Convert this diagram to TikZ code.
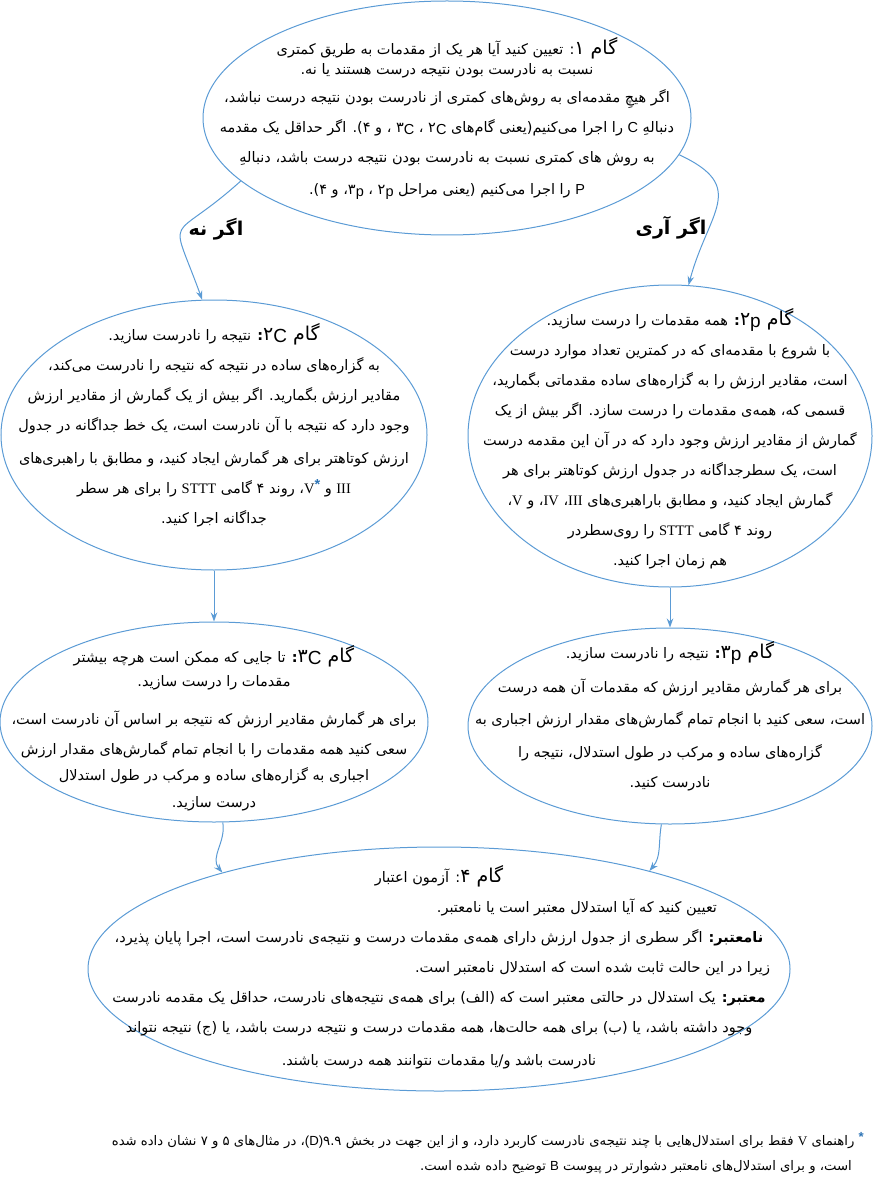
\documentclass[tikz,border=0pt]{standalone}
\usepackage{fontspec}
\usetikzlibrary{shapes.geometric,arrows.meta}
\TeXXeTstate=1
\newfontfamily\farsi[Script=Arabic]{DejaVu Sans}
\newfontfamily\latsf{Liberation Sans}
\newfontfamily\latrm{Liberation Serif}
\definecolor{linkblue}{RGB}{91,155,213}
\definecolor{starblue}{RGB}{46,116,181}
\newcommand{\rl}[1]{\beginR #1\endR}
\newcommand{\lrm}[1]{\beginL{\latrm #1}\endL}
\newcommand{\lsf}[1]{\beginL{\latsf #1}\endL}
\newcommand{\subl}[1]{\raisebox{-2pt}{\latsf #1}}
\newcommand{\gam}[1]{{\fontsize{19}{22}\selectfont #1}}
\newcommand{\starmark}{\textcolor{starblue}{\raisebox{4pt}{\latsf\bfseries *}}}
\newcommand{\astr}{\beginL\starmark\endL}
\begin{document}
\begin{tikzpicture}[x=1pt, y=1pt,
    stepbox/.style={
      % The shape:
      ellipse, inner sep=0pt,
      % The rest
      draw=linkblue, line width=1pt},
    steptext/.style={align=center, inner sep=0pt,
      font=\farsi\fontsize{14.5}{30}\selectfont},
    answer/.style={font=\farsi\bfseries\fontsize{19}{22}\selectfont},
    link/.style={draw=linkblue, line width=1pt, -{Stealth[length=9pt,width=6.5pt]}}]
  \useasboundingbox (0,0) rectangle (873,-1182);

  % step 1
  \node(s1)[stepbox, minimum width=488pt, minimum height=234pt] at (447,-118) {};
  \node(s1t)[steptext, at=(s1.center)] {%
    \rl{\gam{گام ۱}: تعیین کنید آیا هر یک از مقدمات به طریق کمتری}\\[-10pt]
    \rl{نسبت به نادرست بودن نتیجه درست هستند یا نه.}\\[-2pt]
    \rl{اگر هیچِ مقدمه^^^^200cای به روش^^^^200cهای کمتری از نادرست بودن نتیجه درست نباشد،}\\
    \rl{دنبالهِ \lsf{C} را اجرا می^^^^200cکنیم(یعنی گام^^^^200cهای \subl{C}۲ ، \subl{C}۳ ، و ۴). اگر حداقل یک مقدمه}\\
    \rl{به روش های کمتری نسبت به نادرست بودن نتیجه درست باشد، دنبالهِ}\\[2pt]
    \rl{\lsf{P} را اجرا می^^^^200cکنیم (یعنی مراحل \subl{p}۲ ، \subl{p}۳، و ۴).}};

  % the two branches
  \node(s2c)[stepbox, minimum width=426pt, minimum height=270pt] at (214,-435) {};
  \node(s2ct)[steptext, at=(s2c.center), yshift=10pt] {%
    \rl{\gam{گام \subl{C}۲}\textbf{:} نتیجه را نادرست سازید.}\\
    \rl{به گزاره^^^^200cهای ساده در نتیجه که نتیجه را نادرست می^^^^200cکند،}\\
    \rl{مقادیر ارزش بگمارید. اگر بیش از یک گمارش از مقادیر ارزش}\\
    \rl{وجود دارد که نتیجه با آن نادرست است، یک خط جداگانه در جدول}\\[3pt]
    \rl{ارزش کوتاهتر برای هر گمارش ایجاد کنید، و مطابق با راهبری^^^^200cهای}\\
    \rl{\lrm{III} و \beginL{\latrm V}\starmark\endL، روند ۴ گامی \lrm{STTT} را برای هر سطر}\\
    \rl{جداگانه اجرا کنید.}};

  \node(s2p)[stepbox, minimum width=404pt, minimum height=302pt] at (670,-436) {};
  \node(s2pt)[steptext, at=(s2p.center), yshift=-3pt] {%
    \rl{\gam{گام \subl{p}۲}\textbf{:} همه مقدمات را درست سازید.}\\
    \rl{با شروع با مقدمه^^^^200cای که در کمترین تعداد موارد درست}\\
    \rl{است، مقادیر ارزش را به گزاره^^^^200cهای ساده مقدماتی بگمارید،}\\
    \rl{قسمی که، همه^^^^200cی مقدمات را درست سازد. اگر بیش از یک}\\
    \rl{گمارش از مقادیر ارزش وجود دارد که در آن این مقدمه درست}\\
    \rl{است، یک سطرجداگانه در جدول ارزش کوتاهتر برای هر}\\
    \rl{گمارش ایجاد کنید، و مطابق باراهبری^^^^200cهای \lrm{III}، \lrm{IV}، و \lrm{V}،}\\
    \rl{روند ۴ گامی \lrm{STTT} را روی^^^^200cسطردر}\\
    \rl{هم زمان اجرا کنید.}};

  \node(no)[answer] at (216,-229) {\rl{اگر نه}};
  \node(yes)[answer] at (671,-228) {\rl{اگر آری}};
  \path (s1.197) edge[link, out=222, in=110, looseness=2] (s2c.95);
  \path (s1.-9) edge[link, out=-25, in=75, looseness=1.5] (s2p.83);

  % step 3
  \node(s3c)[stepbox, below=51pt, at=(s2c.south), minimum width=428pt, minimum height=200pt] {};
  \node(s3ct)[steptext, at=(s3c.center), yshift=-6pt] {%
    \rl{\gam{گام \subl{C}۳}\textbf{:} تا جایی که ممکن است هرچه بیشتر}\\[-6pt]
    \rl{مقدمات را درست سازید.}\\[8pt]
    \rl{برای هر گمارش مقادیر ارزش که نتیجه بر اساس آن نادرست است،}\\
    \rl{سعی کنید همه مقدمات را با انجام تمام گمارش^^^^200cهای مقدار ارزش}\\[-4pt]
    \rl{اجباری به گزاره^^^^200cهای ساده و مرکب در طول استدلال}\\[-3pt]
    \rl{درست سازید.}};
  \path (s2c) edge[link] (s3c);

  \node(s3p)[stepbox, below=40pt, at=(s2p.south), minimum width=404pt, minimum height=196pt] {};
  \node(s3pt)[steptext, at=(s3p.center), yshift=10pt] {%
    \rl{\gam{گام \subl{p}۳}\textbf{:} نتیجه را نادرست سازید.}\\[4pt]
    \rl{برای هر گمارش مقادیر ارزش که مقدمات آن همه درست}\\[2pt]
    \rl{است، سعی کنید با انجام تمام گمارش^^^^200cهای مقدار ارزش اجباری به}\\[3pt]
    \rl{گزاره^^^^200cهای ساده و مرکب در طول استدلال، نتیجه را}\\
    \rl{نادرست کنید.}};
  \path (s2p) edge[link] (s3p);

  % step 4
  \node(s4)[stepbox, minimum width=702pt, minimum height=244pt] at (439,-969) {};
  \node(s4t)[steptext, at=(s4.center), yshift=2pt] {%
    \rl{\gam{گام ۴}: آزمون اعتبار}\\
    \makebox[556pt][r]{\rl{تعیین کنید که آیا استدلال معتبر است یا نامعتبر.}}\\
    \rl{\textbf{نامعتبر:} اگر سطری از جدول ارزش دارای همه^^^^200cی مقدمات درست و نتیجه^^^^200cی نادرست است، اجرا پایان پذیرد،}\\
    \makebox[662pt][r]{\rl{زیرا در این حالت ثابت شده است که استدلال نامعتبر است.}}\\
    \rl{\textbf{معتبر:} یک استدلال در حالتی معتبر است که (الف) برای همه^^^^200cی نتیجه^^^^200cهای نادرست، حداقل یک مقدمه نادرست}\\
    \rl{وجود داشته باشد، یا (ب) برای همه حالت^^^^200cها، همه مقدمات درست و نتیجه درست باشد، یا (ج) نتیجه نتواند}\\[3pt]
    \rl{نادرست باشد و/یا مقدمات نتوانند همه درست باشند.}};
  \path (s3c.-85) edge[link, out=-80, in=130] (s4.156);
  \path (s3p.-95) edge[link, out=-100, in=50] (s4.25);

  % footnote
  \node(note)[steptext, align=right, anchor=north east, font=\farsi\fontsize{13.2}{25}\selectfont] at (864,-1132) {%
    \rl{\astr\ راهنمای \lrm{V} فقط برای استدلال^^^^200cهایی با چند نتیجه^^^^200cی نادرست کاربرد دارد، و از این جهت در بخش ۹.۹\lsf{(D)}، در مثال^^^^200cهای ۵ و ۷ نشان داده شده}\\
    \rl{\hspace{12pt}است، و برای استدلال^^^^200cهای نامعتبر دشوارتر در پیوست \lsf{B} توضیح داده شده است.}};

\end{tikzpicture}
\end{document}
